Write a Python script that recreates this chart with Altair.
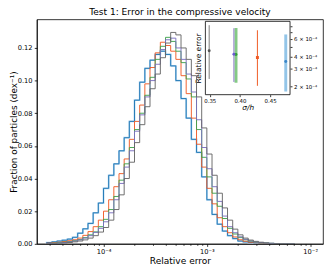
import altair as alt
import pandas as pd

# ---------------- data ----------------
# histogram bins in log10(relative error)
bin_start = -4.55
bin_width = 0.05

blue = [0.0008, 0.0012, 0.0017, 0.0022, 0.0029, 0.0040, 0.0065, 0.0092, 0.0125, 0.0190,
        0.0250, 0.0340, 0.0420, 0.0490, 0.0570, 0.0650, 0.0750, 0.0880, 0.0990, 0.1075,
        0.1125, 0.1160, 0.1180, 0.1160, 0.1090, 0.1000, 0.0890, 0.0770, 0.0640, 0.0560,
        0.0410, 0.0270, 0.0180, 0.0120, 0.0078, 0.0050, 0.0032, 0.0017, 0.0012, 0.0008,
        0.0005, 0.0003, 0.0002, 0.0001, 0, 0, 0, 0]
orange = [0.0004, 0.0007, 0.0010, 0.0014, 0.0019, 0.0025, 0.0035, 0.0052, 0.0075, 0.0105,
          0.0145, 0.0200, 0.0270, 0.0350, 0.0430, 0.0520, 0.0640, 0.0750, 0.0850, 0.0980,
          0.1080, 0.1170, 0.1235, 0.1215, 0.1180, 0.1130, 0.1030, 0.0920, 0.0770, 0.0610,
          0.0470, 0.0340, 0.0245, 0.0160, 0.0105, 0.0068, 0.0042, 0.0025, 0.0016, 0.0010,
          0.0006, 0.0004, 0.0002, 0.0001, 0, 0, 0, 0]
green = [0.0002, 0.0004, 0.0007, 0.0010, 0.0014, 0.0019, 0.0026, 0.0038, 0.0055, 0.0073,
         0.0105, 0.0150, 0.0210, 0.0290, 0.0390, 0.0490, 0.0590, 0.0700, 0.0800, 0.0910,
         0.1020, 0.1130, 0.1210, 0.1265, 0.1240, 0.1180, 0.1110, 0.1010, 0.0900, 0.0700,
         0.0530, 0.0410, 0.0310, 0.0230, 0.0155, 0.0095, 0.0060, 0.0038, 0.0025, 0.0016,
         0.0010, 0.0006, 0.0004, 0.0002, 0.0001, 0, 0, 0]
purple = [0.0002, 0.0003, 0.0005, 0.0008, 0.0012, 0.0017, 0.0024, 0.0035, 0.0050, 0.0070,
          0.0095, 0.0135, 0.0190, 0.0270, 0.0370, 0.0470, 0.0570, 0.0690, 0.0790, 0.0900,
          0.1000, 0.1100, 0.1190, 0.1250, 0.1260, 0.1200, 0.1130, 0.1040, 0.0930, 0.0760,
          0.0590, 0.0460, 0.0350, 0.0260, 0.0170, 0.0105, 0.0068, 0.0043, 0.0028, 0.0018,
          0.0011, 0.0007, 0.0004, 0.0002, 0.0001, 0, 0, 0]
gray = [0.0001, 0.0002, 0.0003, 0.0005, 0.0008, 0.0012, 0.0017, 0.0024, 0.0035, 0.0050,
        0.0072, 0.0100, 0.0145, 0.0210, 0.0300, 0.0400, 0.0500, 0.0620, 0.0730, 0.0840,
        0.0950, 0.1040, 0.1140, 0.1230, 0.1295, 0.1280, 0.1200, 0.1130, 0.1030, 0.0900,
        0.0710, 0.0550, 0.0420, 0.0310, 0.0220, 0.0145, 0.0090, 0.0055, 0.0035, 0.0023,
        0.0015, 0.0010, 0.0006, 0.0004, 0.0002, 0.0001, 0, 0]

series_names = ["blue", "orange", "green", "purple", "gray"]
series_values = [blue, orange, green, purple, gray]

# inset: relative error vs sigma/h
inset_names = ["gray", "green", "purple", "orange", "blue"]
inset_sigma = [0.349, 0.3935, 0.390, 0.429, 0.476]
inset_center = [4.55e-4, 4.18e-4, 4.20e-4, 3.89e-4, 3.55e-4]
inset_low = [2.36e-4, 2.16e-4, 2.20e-4, 2.01e-4, 1.76e-4]
inset_high = [8.26e-4, 7.74e-4, 7.70e-4, 7.34e-4, 6.66e-4]

# axis extents and ticks
x_domain = [2.265e-5, 1.33e-2]
y_domain = [0, 0.1375]
y_ticks = [0.0, 0.02, 0.04, 0.06, 0.08, 0.10, 0.12]
x_major = [1e-4, 1e-3, 1e-2]
x_minor_mult = [2, 3, 4, 5, 6, 7, 8, 9]
x_minor_dec = [1e-5, 1e-4, 1e-3]
inset_x_domain = [0.3427, 0.4831]
inset_y_domain = [1.635e-4, 9.04e-4]
inset_x_ticks = [0.35, 0.40, 0.45]
inset_y_ticks = [2e-4, 3e-4, 4e-4, 5e-4, 6e-4, 7e-4, 8e-4]

# ---------------- styles / layout ----------------
FONT = "DejaVu Sans"
line_colors = {"blue": "#1f77b4", "orange": "#f05a24", "green": "#3fa34d",
               "purple": "#7a6fc0", "gray": "#666666"}
halo_color = "#a9d0ee"
inset_style = {  # bar color, bar width, bar opacity, marker color
    "gray": ("#7a7a7a", 1.0, 1.0, "#555555"),
    "green": ("#5cb85c", 3.0, 0.75, "#2ca02c"),
    "purple": ("#8877c4", 1.0, 1.0, "#6a5acd"),
    "orange": ("#f05a24", 1.0, 1.0, "#f05a24"),
    "blue": ("#93c5e8", 3.0, 1.0, "#3a86c8"),
}
PL = 37.3
W, H = 290.7, 228.0
INSET_X_RANGE = [171.2, 257.2]
INSET_Y_RANGE = [76.5, 2.0]

# ---------------- tables ----------------
rows = []
for name, vals in zip(series_names, series_values):
    n = len(vals)
    edges = [10 ** (bin_start + bin_width * i) for i in range(n + 1)]
    k = 0
    rows.append({"series": name, "x": edges[0], "y": 0.0, "k": k})
    for i, v in enumerate(vals):
        k += 1
        rows.append({"series": name, "x": edges[i], "y": v, "k": k})
    rows.append({"series": name, "x": edges[n], "y": vals[-1], "k": k + 1})
    rows.append({"series": name, "x": edges[n], "y": 0.0, "k": k + 2})
hist_df = pd.DataFrame(rows)

inset_df = pd.DataFrame({"name": inset_names, "sigma": inset_sigma,
                         "center": inset_center, "low": inset_low, "high": inset_high})
frame_df = pd.DataFrame({"x0": [inset_x_domain[0]], "x1": [inset_x_domain[1]],
                         "y0": [inset_y_domain[0]], "y1": [inset_y_domain[1]]})

# ---------------- main axes ----------------
x_minor = [m * d for d in x_minor_dec for m in x_minor_mult
           if x_domain[0] <= m * d <= x_domain[1]]
x_axis_major = alt.Axis(
    orient="bottom", title="Relative error", values=x_major,
    labelExpr=("datum.value > 9e-5 && datum.value < 1.1e-4 ? '10⁻⁴' : "
               "datum.value > 9e-4 && datum.value < 1.1e-3 ? '10⁻³' : '10⁻²'"),
    tickSize=2.6, labelPadding=2.2, labelFontSize=6.8, labelOverlap=False, labelFlush=False,
    titleFontSize=9.2, titleY=19.5, titleBaseline="alphabetic", titleAlign="center",
)
x_axis_minor = alt.Axis(
    orient="bottom", title=None, values=x_minor, labels=False, domain=False,
    tickSize=1.5,
)
y_axis = alt.Axis(
    title="Fraction of particles (dex⁻¹)", values=y_ticks, format=".2f",
    tickSize=2.6, labelPadding=2.2, labelFontSize=6.8, labelOverlap=False, labelFlush=False,
    titleFontSize=9.0, titleAngle=270, titleX=13.6 - PL, titleY=H / 2,
    titleAlign="center", titleBaseline="middle",
)
xs = alt.Scale(type="log", domain=x_domain, nice=False)
ys = alt.Scale(domain=y_domain, nice=False, zero=False)

main_layers = []
halo = alt.Chart(hist_df).transform_filter(alt.datum.series == "blue").mark_line(
    interpolate="step-after", color=halo_color, strokeWidth=1.8, clip=True
).encode(x=alt.X("x:Q", scale=xs, axis=x_axis_minor), y=alt.Y("y:Q", scale=ys, axis=y_axis),
         order="k:Q")
main_layers.append(halo)
for j, name in enumerate(series_names):
    main_layers.append(
        alt.Chart(hist_df).transform_filter(alt.datum.series == name).mark_line(
            interpolate="step-after", color=line_colors[name], strokeWidth=0.95, clip=True
        ).encode(x=alt.X("x:Q", scale=xs, axis=x_axis_major if j == 0 else None),
                 y=alt.Y("y:Q", scale=ys, axis=y_axis), order="k:Q")
    )
main = alt.layer(*main_layers).resolve_axis(x="independent")

# ---------------- inset ----------------
ix_axis = alt.Axis(
    orient="bottom", offset=INSET_Y_RANGE[0] - H, values=inset_x_ticks, format=".2f",
    domain=False, tickSize=2, labelPadding=1.5, labelFontSize=5.5, labelFlush=False,
    title="σ/h", titleFontSize=7.5, titleFontStyle="italic", titleY=15,
    titleBaseline="alphabetic", titleAlign="center",
)
iy_axis = alt.Axis(
    orient="right", offset=INSET_X_RANGE[1] - W, values=inset_y_ticks, domain=False,
    labelExpr=("datum.value < 2.5e-4 ? '2 × 10⁻⁴' : datum.value < 3.5e-4 ? '3 × 10⁻⁴' : "
               "datum.value < 4.5e-4 ? '4 × 10⁻⁴' : "
               "(datum.value > 5.5e-4 && datum.value < 6.5e-4) ? '6 × 10⁻⁴' : ''"),
    tickSize=2, labelPadding=1.5, labelFontSize=5.5, labelOverlap=False, labelFlush=False,
    title="Relative error", titleFontSize=7.5, titleAngle=270,
    titleX=201.7 - (PL + INSET_X_RANGE[1]), titleY=(INSET_Y_RANGE[0] + INSET_Y_RANGE[1]) / 2,
    titleAlign="center", titleBaseline="middle",
)
ixs = alt.Scale(domain=inset_x_domain, range=INSET_X_RANGE, nice=False, zero=False)
iys = alt.Scale(type="log", domain=inset_y_domain, range=INSET_Y_RANGE, nice=False)

inset_layers = [
    alt.Chart(frame_df).mark_rect(fill="white", stroke="#000", strokeWidth=0.8).encode(
        x=alt.X("x0:Q", scale=ixs, axis=ix_axis), x2="x1:Q",
        y=alt.Y("y0:Q", scale=iys, axis=iy_axis), y2="y1:Q")
]
for name in ["green", "blue", "gray", "purple", "orange"]:
    bc, bw, bo, mc = inset_style[name]
    inset_layers.append(
        alt.Chart(inset_df).transform_filter(alt.datum.name == name).mark_rule(
            color=bc, strokeWidth=bw, opacity=bo
        ).encode(x=alt.X("sigma:Q", scale=ixs, axis=ix_axis),
                 y=alt.Y("low:Q", scale=iys, axis=iy_axis), y2="high:Q")
    )
for name in ["gray", "green", "purple", "orange", "blue"]:
    bc, bw, bo, mc = inset_style[name]
    inset_layers.append(
        alt.Chart(inset_df).transform_filter(alt.datum.name == name).mark_point(
            color=mc, filled=True, opacity=1, size=9,
            shape="square" if name == "orange" else "circle"
        ).encode(x=alt.X("sigma:Q", scale=ixs, axis=ix_axis),
                 y=alt.Y("center:Q", scale=iys, axis=iy_axis))
    )
inset = alt.layer(*inset_layers)

chart = alt.layer(main, inset).resolve_scale(x="independent", y="independent").properties(
    width=W, height=H,
    padding={"left": PL - 8, "top": 9.5, "right": 1, "bottom": 22},
    autosize=alt.AutoSizeParams(type="none"),
    title=alt.TitleParams("Test 1: Error in the compressive velocity", fontSize=9.2,
                          font=FONT, fontWeight="normal", anchor="middle", frame="group",
                          baseline="bottom", offset=0.5, dy=7.5, color="#000"),
).configure_view(stroke="#000", strokeWidth=0.8).configure_axis(
    grid=False, domainColor="#000", tickColor="#000", labelColor="#000", titleColor="#000",
    labelFont=FONT, titleFont=FONT, titleFontWeight="normal", domainWidth=0.8, tickWidth=0.8,
)

chart.save("out.html", embed_options={"renderer": "svg", "actions": False})
